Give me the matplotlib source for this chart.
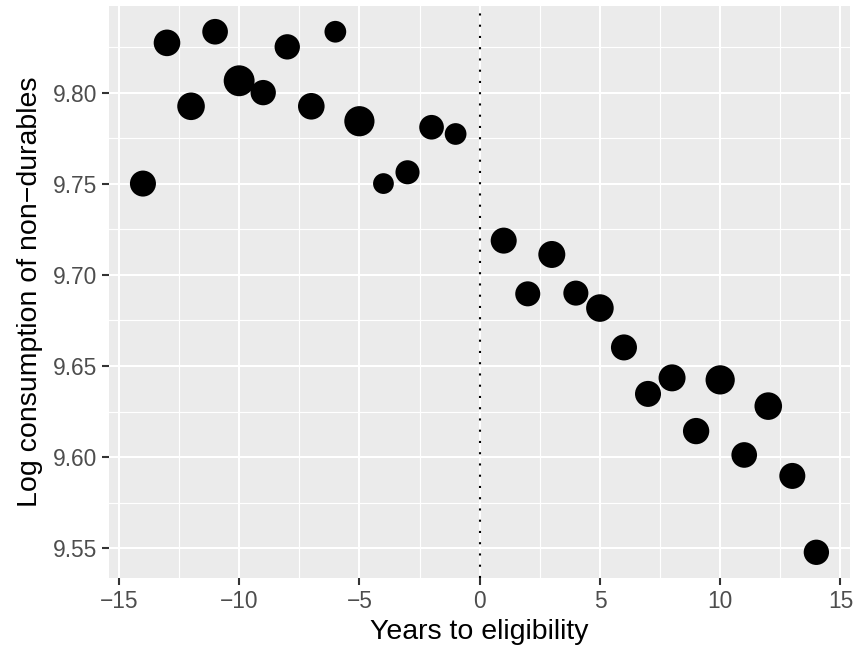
import matplotlib
matplotlib.use("Agg")
import matplotlib.pyplot as plt
import numpy as np

# years relative to pension eligibility
years = [-14, -13, -12, -11, -10, -9, -8, -7, -6, -5, -4, -3, -2, -1,
         1, 2, 3, 4, 5, 6, 7, 8, 9, 10, 11, 12, 13, 14]

# mean log consumption of non-durables per cell
log_cons = [9.7501, 9.8273, 9.7925, 9.8334, 9.8065, 9.8000, 9.8251, 9.7925,
            9.8334, 9.7843, 9.7501, 9.7563, 9.7810, 9.7773,
            9.7188, 9.6896, 9.7112, 9.6900, 9.6818, 9.6602, 9.6347, 9.6435,
            9.6143, 9.6424, 9.6012, 9.6280, 9.5897, 9.5478]

# relative cell weight (point area)
cell_weight = [713, 745, 801, 692, 1005, 676, 676, 745, 497, 961, 454, 610, 640, 497,
               713, 660, 767, 660, 801, 713, 713, 767, 729, 900, 692, 801, 713, 676]

x_ticks = [-15, -10, -5, 0, 5, 10, 15]
y_ticks = [9.55, 9.60, 9.65, 9.70, 9.75, 9.80]


def ggplot_limits(vals, mult=0.05):
    lo, hi = min(vals), max(vals)
    pad = (hi - lo) * mult
    return lo - pad, hi + pad


fig = plt.figure(figsize=(8.55, 6.49), dpi=100)
ax = fig.add_axes([0.1278, 0.1089, 0.8664, 0.8823])
ax.set_facecolor("#EBEBEB")

plt.rcParams["font.family"] = ["Liberation Sans", "DejaVu Sans"]

sizes = np.array(cell_weight) * 0.5184 * 0.95
ax.scatter(years, log_cons, s=sizes, color="black", linewidths=0, zorder=3)
ax.axvline(0, color="black", linewidth=1.5, linestyle=(0, (1, 4.4)),
           dash_capstyle="butt", zorder=2)

xlo, xhi = ggplot_limits(years)
ylo, yhi = ggplot_limits(log_cons)
ax.set_xlim(min(xlo, -15.4), max(xhi, 15.4))
ax.set_ylim(ylo, yhi)

ax.set_xticks(x_ticks)
ax.set_xticklabels([str(t).replace("-", "\u2212") for t in x_ticks])
ax.set_yticks(y_ticks)
ax.set_yticklabels([f"{t:.2f}" for t in y_ticks])
ax.set_xticks([-12.5, -7.5, -2.5, 2.5, 7.5, 12.5], minor=True)
ax.set_yticks([9.575, 9.625, 9.675, 9.725, 9.775, 9.825], minor=True)

ax.grid(which="major", color="white", linewidth=1.5)
ax.grid(which="minor", color="white", linewidth=0.8)
ax.set_axisbelow(True)
for s in ax.spines.values():
    s.set_visible(False)

ax.tick_params(which="major", length=5, width=1.5, color="#333333",
               labelsize=16.4, labelcolor="#4D4D4D", pad=3.5)
ax.tick_params(which="minor", length=0)
for lab in ax.get_xticklabels() + ax.get_yticklabels():
    lab.set_family(["Liberation Sans", "DejaVu Sans"])

ax.set_xlabel("Years to eligibility", fontsize=20.5, color="black",
              family=["Liberation Sans", "DejaVu Sans"], labelpad=4)
ax.set_ylabel("Log consumption of non\u2212durables", fontsize=20.5, color="black",
              family=["Liberation Sans", "DejaVu Sans"], labelpad=7)

fig.savefig("out.png", dpi=100)
